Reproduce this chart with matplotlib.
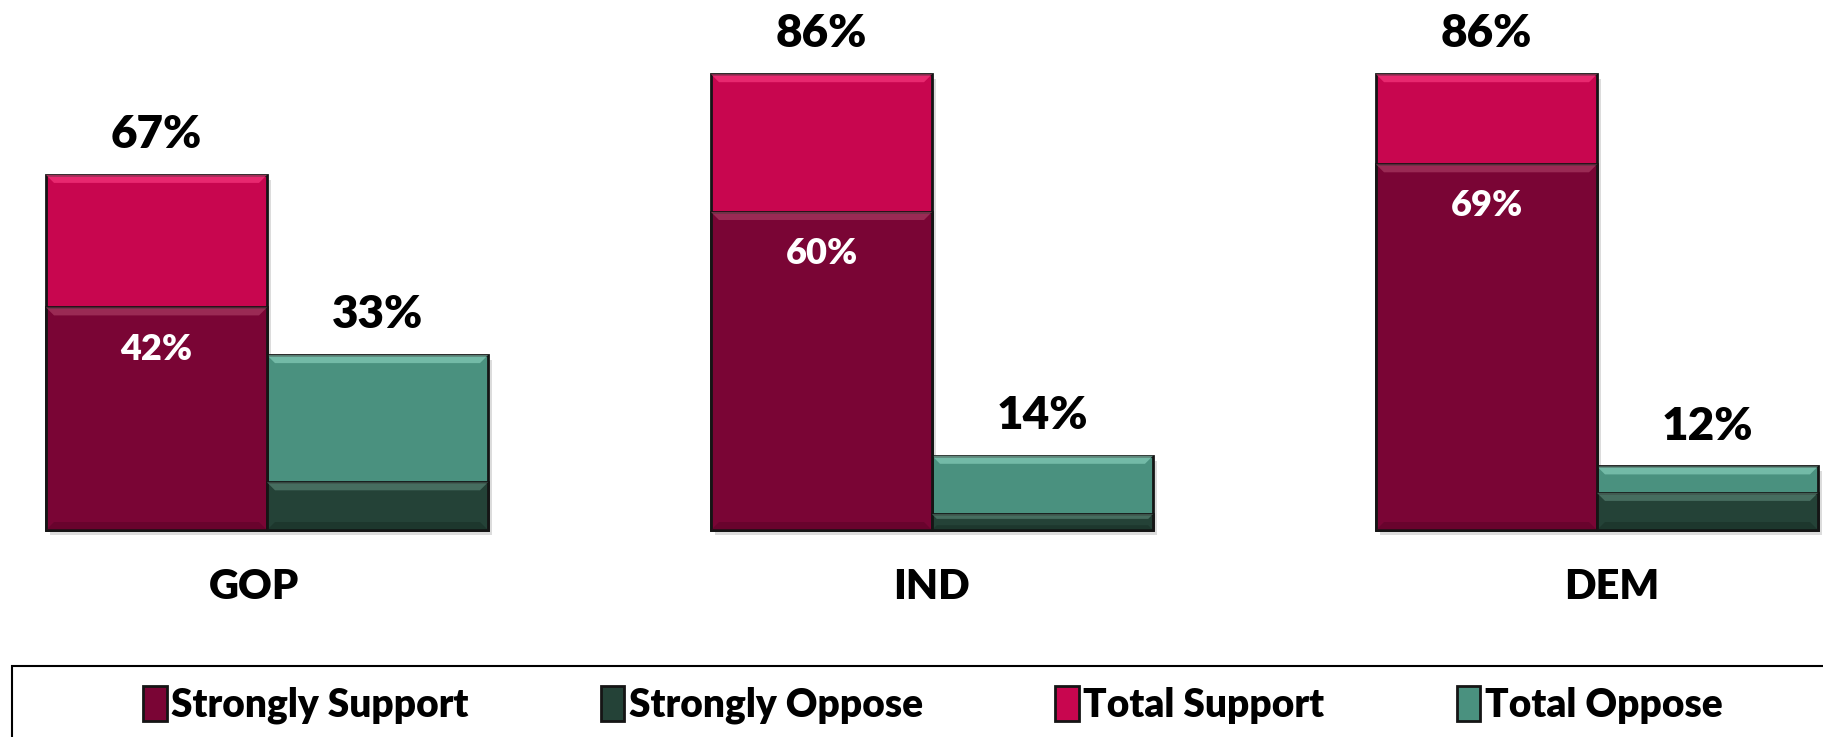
import matplotlib
matplotlib.use("Agg")
import matplotlib.pyplot as plt
import numpy as np
from matplotlib.patches import Rectangle, Patch, Polygon

plt.rcParams['font.family'] = ['Lato', 'DejaVu Sans']
plt.rcParams['font.weight'] = 'heavy'

categories = ["GOP", "IND", "DEM"]
total_support = [67, 86, 86]
strongly_support = [42, 60, 69]
total_oppose = [33, 14, 12]
strongly_oppose = [9, 3, 7]
legend_labels = ["Strongly Support", "Strongly Oppose", "Total Support", "Total Oppose"]

c_ss = "#7a0535"
c_ts = "#c8064f"
c_to = "#4a917f"
c_so = "#244237"
edge = "#151515"
FW = 'heavy'

W, H = 1824, 737
fig = plt.figure(figsize=(W / 100, H / 100), dpi=100)
ax = fig.add_axes([0, 0, 1, 1])
ax.set_axis_off()

px_per_unit = 5.30
base_px = 530
ax.set_ylim(-(H - base_px) / px_per_unit, base_px / px_per_unit)
ax.set_xlim(-267 / 665, (W - 267) / 665)

x = np.arange(len(categories))
w = 0.3323
dx = 8 / 665            # bevel inset in data x units
dy = 8 / px_per_unit    # bevel inset in data y units

def bevel(bars, light, dark):
    for b in bars:
        x0, y0 = b.get_x(), b.get_y()
        bw, bh = b.get_width(), b.get_height()
        t = min(dy, bh * 0.3)
        s = min(dx, t * px_per_unit / 665)
        z = b.get_zorder() + 0.1
        top = [(x0, y0 + bh), (x0 + bw, y0 + bh), (x0 + bw - s, y0 + bh - t), (x0 + s, y0 + bh - t)]
        bot = [(x0, y0), (x0 + bw, y0), (x0 + bw - s, y0 + t), (x0 + s, y0 + t)]
        ax.add_patch(Polygon(top, closed=True, facecolor=light, edgecolor='none', alpha=0.6, zorder=z))
        ax.add_patch(Polygon(bot, closed=True, facecolor=dark, edgecolor='none', alpha=0.35, zorder=z))

# shadows
for xi, ts, to in zip(x, total_support, total_oppose):
    ax.add_patch(Rectangle((xi - w + 0.006, -0.9), w, ts, facecolor='#bbbbbb',
                           edgecolor='none', alpha=0.5, zorder=0.5))
    ax.add_patch(Rectangle((xi + 0.006, -0.9), w, to, facecolor='#bbbbbb',
                           edgecolor='none', alpha=0.5, zorder=0.5))

b_ts = ax.bar(x - w / 2, total_support, w, color=c_ts, edgecolor=edge, linewidth=2, zorder=2)
b_ss = ax.bar(x - w / 2, strongly_support, w, color=c_ss, edgecolor=edge, linewidth=2, zorder=3)
b_to = ax.bar(x + w / 2, total_oppose, w, color=c_to, edgecolor=edge, linewidth=2, zorder=2)
b_so = ax.bar(x + w / 2, strongly_oppose, w, color=c_so, edgecolor=edge, linewidth=2, zorder=3)

bevel(b_ss, '#b0446a', '#4a0020')
bevel(b_ts, '#ff3f86', '#8a0036')
bevel(b_to, '#8fd6c2', '#2a6656')
bevel(b_so, '#5e8a7a', '#10231c')

for xi, v in zip(x, total_support):
    ax.annotate(f"{v}%", (xi - w / 2, v), xytext=(0, 29), textcoords='offset points',
                ha='center', va='center', fontsize=33, fontweight=FW, color='black')
for xi, v in zip(x, total_oppose):
    ax.annotate(f"{v}%", (xi + w / 2, v), xytext=(0, 29), textcoords='offset points',
                ha='center', va='center', fontsize=33, fontweight=FW, color='black')
for xi, v in zip(x, strongly_support):
    ax.annotate(f"{v}%", (xi - w / 2, v), xytext=(0, -30), textcoords='offset points',
                ha='center', va='center', fontsize=26, fontweight=FW, color='white', zorder=5)

label_shift_px = [-13, 0, 15]
for xi, c, sh in zip(x, categories, label_shift_px):
    ax.annotate(c, (xi, -10.8), xytext=(sh * 0.72, 0), textcoords='offset points',
                ha='center', va='center', fontsize=30, fontweight=FW)

# legend box
fig.patches.append(Rectangle((12 / W, -0.1), 1.2, (H - 666) / H + 0.1,
                             transform=fig.transFigure, facecolor='white',
                             edgecolor='black', linewidth=1.5))
handles = [Patch(facecolor=c, edgecolor=edge, linewidth=2) for c in [c_ss, c_so, c_ts, c_to]]
leg = fig.legend(handles, legend_labels, loc='center', bbox_to_anchor=(933 / W, 1 - 705 / H),
                 ncol=4, frameon=False, fontsize=28, handlelength=0.6, handleheight=1.0,
                 handletextpad=0.12, columnspacing=3.4, borderaxespad=0)
for t in leg.get_texts():
    t.set_fontweight(FW)

fig.savefig("out.png", dpi=100)
